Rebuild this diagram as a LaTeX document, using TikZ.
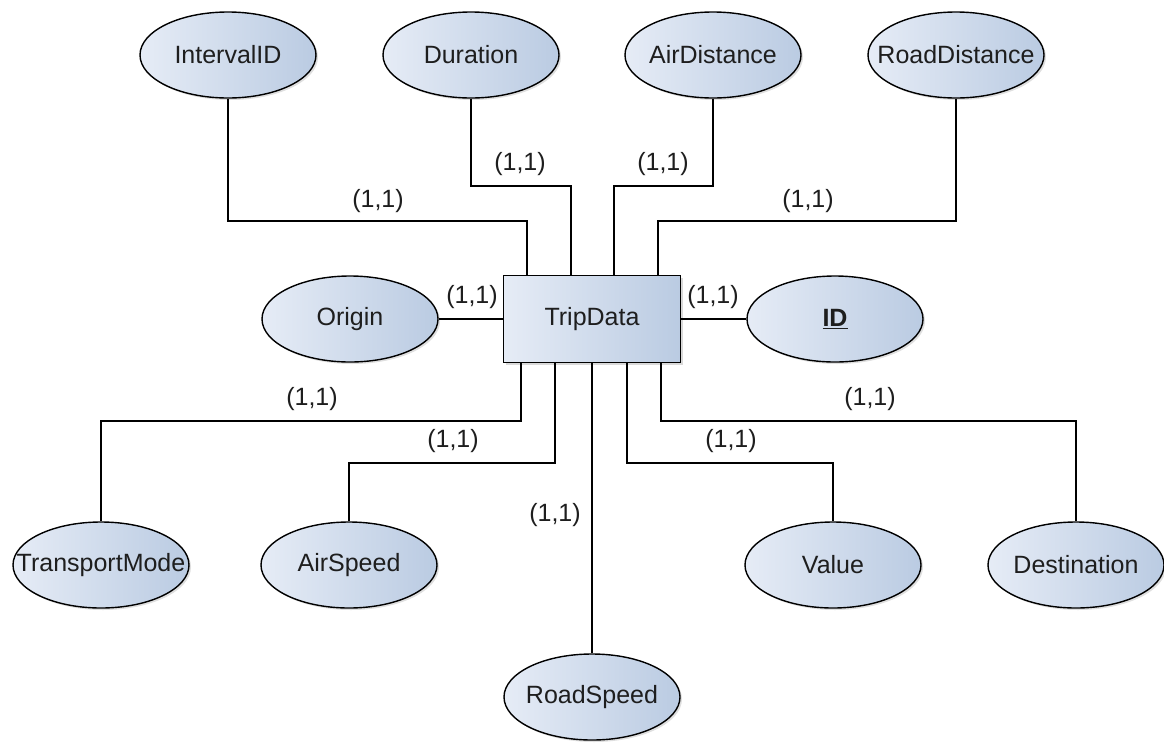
\documentclass[tikz,border=0pt]{standalone}
\usepackage{fontspec}
\setmainfont{Liberation Sans}
\usetikzlibrary{shapes.geometric,shadows}
\definecolor{attrlight}{HTML}{E6ECF6}
\definecolor{attrdark}{HTML}{BACBE2}
\definecolor{inktext}{HTML}{1E1E1E}
\tikzset{
  attr/.style={ellipse,draw=black,line width=1.4pt,inner sep=0pt,
    minimum width=176pt,minimum height=86pt,
    left color=attrlight,right color=attrdark,
    execute at begin node={\hbox to 0pt\bgroup\hss},
    execute at end node={\hss\egroup},
    drop shadow={shadow xshift=2pt,shadow yshift=-2pt,opacity=.25}},
  entity/.style={rectangle,draw=black,line width=1.6pt,inner sep=0pt,
    minimum width=177pt,minimum height=87pt,
    left color=attrlight,right color=attrdark,
    drop shadow={shadow xshift=2pt,shadow yshift=-2pt,opacity=.3}},
  card/.style={inner sep=0pt}
}
\begin{document}
\begin{tikzpicture}[x=1pt,y=-1pt,font=\fontsize{25}{30}\selectfont,text=inktext]
      \useasboundingbox (0,0) rectangle (1164,742);
      \node[entity] (tripdata) at (592,319) {TripData};
      \begin{scope}[every node/.style={attr}]
        \node (intervalid) at (228,55) {IntervalID};
        \node (duration) at (471,55) {Duration};
        \node (airdistance) at (713,55) {AirDistance};
        \node (roaddistance) at (956,55) {RoadDistance};
        \node (origin) at (350,319) {Origin};
        \node (id) at (835,319) {\underline{\textbf{ID}}};
        \node (transportmode) at (101,565) {TransportMode};
        \node (airspeed) at (349,565) {AirSpeed};
        \node (roadspeed) at (592,697) {RoadSpeed};
        \node (value) at (833,565) {Value};
        \node (destination) at (1076,565) {Destination};
      \end{scope}
      % bends of the connectors
      \coordinate (b1) at (527,221);
      \coordinate (b2) at (571,186);
      \coordinate (b3) at (614,186);
      \coordinate (b4) at (658,221);
      \coordinate (b5) at (521,421);
      \coordinate (b6) at (555,463);
      \coordinate (b7) at (627,463);
      \coordinate (b8) at (661,421);
      \begin{scope}[line width=1.5pt]
        \draw (origin) -- (tripdata);
        \draw (id) -- (tripdata);
        \draw (roadspeed) -- (tripdata);
        \draw (intervalid) |- (b1) -- (b1 |- tripdata.north);
        \draw (duration) |- (b2) -- (b2 |- tripdata.north);
        \draw (airdistance) |- (b3) -- (b3 |- tripdata.north);
        \draw (roaddistance) |- (b4) -- (b4 |- tripdata.north);
        \draw (b5 |- tripdata.south) -- (b5) -| (transportmode);
        \draw (b6 |- tripdata.south) -- (b6) -| (airspeed);
        \draw (b7 |- tripdata.south) -- (b7) -| (value);
        \draw (b8 |- tripdata.south) -- (b8) -| (destination);
      \end{scope}
      \begin{scope}[every node/.style={card}]
        \node (c1) at (378,201) {(1,1)};
        \node (c2) at (520,164) {(1,1)};
        \node (c3) at (663,164) {(1,1)};
        \node (c4) at (808,201) {(1,1)};
        \node (c5) at (472,297) {(1,1)};
        \node (c6) at (713,297) {(1,1)};
        \node (c7) at (312,399) {(1,1)};
        \node (c8) at (453,441) {(1,1)};
        \node (c9) at (555,515) {(1,1)};
        \node (c10) at (731,441) {(1,1)};
        \node (c11) at (870,399) {(1,1)};
      \end{scope}
    \end{tikzpicture}
\end{document}
